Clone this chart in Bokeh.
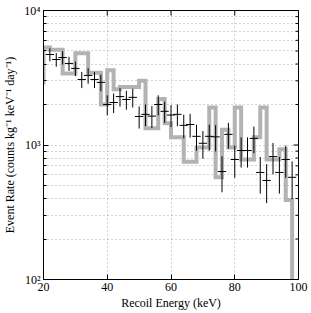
from bokeh.plotting import figure
from bokeh.models import FixedTicker, CustomJSTickFormatter, Range1d, ColumnDataSource
from bokeh.embed import file_html
from bokeh.resources import INLINE
import math

# ---------------- data ----------------
BIN_LEFT = [20, 22, 24, 26, 28, 30, 32, 34, 36, 38,
            40, 42, 44, 46, 48, 50, 52, 54, 56, 58,
            60, 62, 64, 66, 68, 70, 72, 74, 76, 78,
            80, 82, 84, 86, 88, 90, 92, 94, 96, 98]
BIN_WIDTH = 2
HIST_START = 2800
HIST = [5300, 5100, 5100, 3400, 3400, 4800, 4800, 3450, 3450, 2000,
        3600, 2600, 2700, 2700, 2700, 3000, 1330, 1330, 2200, 1450,
        1140, 1140, 750, 750, 960, 960, 1900, 575, 1300, 960,
        1900, 780, 780, 1140, 1900, 780, 780, 930, 390, 0]

ENERGY = [22, 24, 26, 28, 30, 32, 34, 36, 38, 40,
          42, 44, 46, 48, 50, 52, 54, 56, 58, 60,
          62, 64, 66, 68, 70, 72, 74, 76, 78, 80,
          82, 84, 86, 88, 90, 92, 94, 96, 98]
RATE = [4710, 4320, 4470, 4040, 3710, 3070, 3290, 3070, 2920, 2000,
        2070, 2290, 2180, 2260, 1630, 1690, 1640, 2000, 1780, 1670,
        1690, 1400, 1420, 1160, 1030, 1160, 1150, 635, 1200, 780,
        910, 910, 1120, 625, 545, 820, 625, 780, 575]
RATE_ERR = [520, 500, 505, 480, 460, 420, 435, 420, 410, 340,
            345, 360, 350, 360, 305, 310, 305, 340, 320, 310,
            310, 280, 285, 255, 240, 255, 255, 190, 260, 210,
            230, 230, 250, 190, 175, 215, 190, 210, 180]
E_HALF = 1.3

XTICKS = [20, 40, 60, 80, 100]
YTICKS = [100, 1000, 10000]
YMINOR = [m * 10 ** d for d in (2, 3) for m in range(2, 10)]
FLOOR = 10  # stand-in for an empty bin on the log axis

FONT = "Liberation Serif"
GRID = "#a8a8a8"

# staircase built from the bins
xs = [BIN_LEFT[0]]
ys = [HIST_START]
for x0, v in zip(BIN_LEFT, HIST):
    vv = v if v > 0 else FLOOR
    xs += [x0, x0 + BIN_WIDTH]
    ys += [vv, vv]

pts = ColumnDataSource(dict(
    e=ENERGY,
    r=RATE,
    e0=[e - E_HALF for e in ENERGY],
    e1=[e + E_HALF for e in ENERGY],
    r0=[r - s for r, s in zip(RATE, RATE_ERR)],
    r1=[r + s for r, s in zip(RATE, RATE_ERR)],
))

p = figure(frame_width=255, frame_height=269,
           x_range=Range1d(20, 100), y_range=Range1d(100, 10000),
           y_axis_type="log", output_backend="svg", toolbar_location=None,
           min_border_left=35, min_border_right=13, min_border_top=10, min_border_bottom=26)
p.background_fill_color = "white"
p.border_fill_color = "white"
p.outline_line_color = "black"
p.outline_line_width = 1

p.line(xs, ys, line_color="#b3b3b3", line_width=4, line_join="miter")
p.segment(x0="e0", x1="e1", y0="r", y1="r", source=pts, line_color="black", line_width=1)
p.segment(x0="e", x1="e", y0="r0", y1="r1", source=pts, line_color="black", line_width=1)

# inward ticks on the top and right edges of the box
p.scatter(x=XTICKS, y=[YTICKS[-1]] * len(XTICKS), marker="dash", angle=math.pi / 2,
          size=10, line_color="black", line_width=1)
p.scatter(x=[XTICKS[-1]] * len(YTICKS), y=YTICKS, marker="dash",
          size=10, line_color="black", line_width=1)
p.scatter(x=[XTICKS[-1]] * len(YMINOR), y=YMINOR, marker="dash",
          size=6, line_color="black", line_width=1)

xt = FixedTicker(ticks=XTICKS)
yt = FixedTicker(ticks=YTICKS, minor_ticks=YMINOR)

xa = p.xaxis[0]
xa.ticker = xt
xa.axis_label = "Recoil Energy (keV)"
ya = p.yaxis[0]
ya.ticker = yt
ya.axis_label = "Event Rate (counts kg\u207b\u00b9 keV\u207b\u00b9 day\u207b\u00b9)"
ya.formatter = CustomJSTickFormatter(code="""
const e = Math.round(Math.log10(tick));
const sup = {'0':'\u2070','1':'\u00b9','2':'\u00b2','3':'\u00b3','4':'\u2074','5':'\u2075'};
return '10' + String(e).split('').map(c => sup[c]).join('');
""")

for ax in (xa, ya):
    ax.axis_line_color = "black"
    ax.major_tick_line_color = "black"
    ax.minor_tick_line_color = "black"
    ax.major_tick_in = 5
    ax.major_tick_out = 0
    ax.minor_tick_in = 3
    ax.minor_tick_out = 0
    ax.major_label_text_font = FONT
    ax.major_label_text_font_size = "12px"
    ax.major_label_text_color = "black"
    ax.axis_label_text_font = FONT
    ax.axis_label_text_font_size = "12px"
    ax.axis_label_text_font_style = "normal"
    ax.axis_label_text_color = "black"
xa.minor_tick_in = 0
xa.major_label_standoff = 3
xa.axis_label_standoff = 2
ya.major_label_standoff = 3
ya.axis_label_standoff = 4

p.xgrid.ticker = xt
p.ygrid.ticker = yt
for g in (p.xgrid, p.ygrid):
    g.grid_line_color = GRID
    g.grid_line_dash = "1 3"
p.ygrid.minor_grid_line_color = GRID
p.ygrid.minor_grid_line_dash = "1 3"

open("out.html", "w").write(file_html(p, INLINE))
